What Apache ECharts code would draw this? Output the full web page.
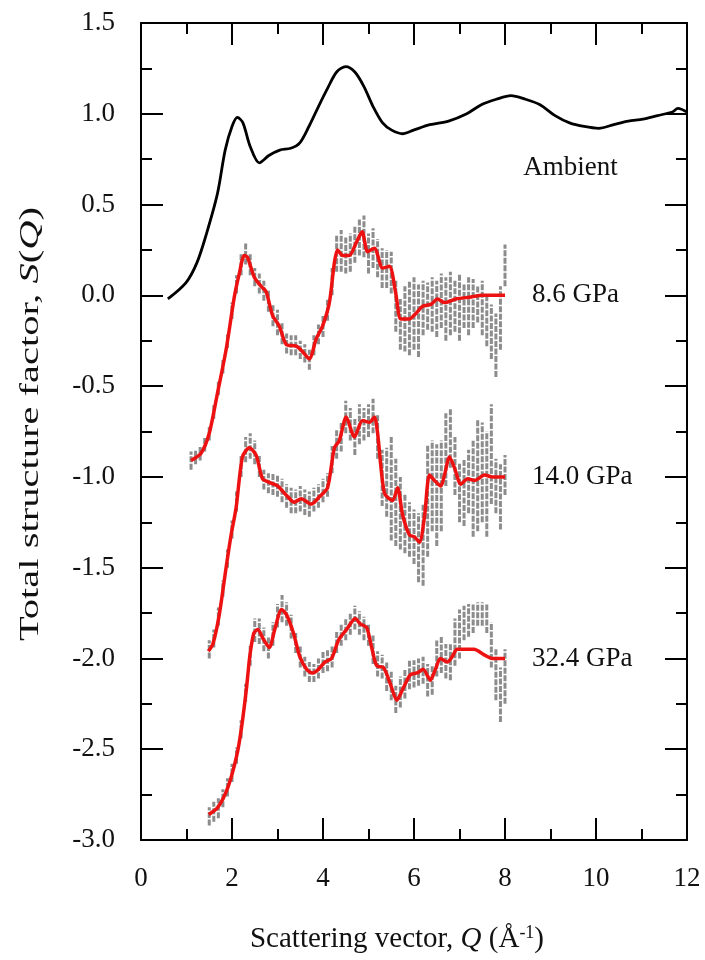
<!DOCTYPE html>
<html>
<head>
<meta charset="utf-8">
<script src="https://cdn.jsdelivr.net/npm/echarts@6/dist/echarts.min.js"></script>
<style>
html,body{margin:0;padding:0;background:#fff;}
#chart{width:705px;height:960px;}
</style>
</head>
<body>
<div id="chart"></div>
<script>
// ---------- data ----------
const xTicks = [0, 2, 4, 6, 8, 10, 12];
const yTicks = [-3.0, -2.5, -2.0, -1.5, -1.0, -0.5, 0.0, 0.5, 1.0, 1.5];
const seriesNames = ['Ambient', '8.6 GPa', '14.0 GPa', '32.4 GPa'];

// Ambient (black)
const qAmbient = [0.59, 0.99, 1.23, 1.44, 1.68, 1.85, 2.0, 2.12, 2.24, 2.40, 2.60, 2.81, 3.05, 3.29, 3.49, 3.69, 3.90, 4.10, 4.30, 4.50, 4.70, 4.90, 5.10, 5.31, 5.51, 5.75, 5.99, 6.35, 6.76, 7.16, 7.48, 7.81, 8.13, 8.45, 8.77, 9.10, 9.42, 9.74, 10.06, 10.39, 10.71, 11.03, 11.35, 11.68, 11.80, 12.0];
const sAmbient = [-0.02, 0.07, 0.18, 0.34, 0.56, 0.80, 0.93, 0.98, 0.95, 0.82, 0.73, 0.77, 0.80, 0.81, 0.84, 0.93, 1.04, 1.14, 1.23, 1.26, 1.23, 1.15, 1.04, 0.95, 0.91, 0.89, 0.91, 0.94, 0.96, 1.00, 1.05, 1.08, 1.10, 1.08, 1.05, 0.99, 0.95, 0.93, 0.92, 0.94, 0.96, 0.97, 0.99, 1.01, 1.03, 1.01];

// 8.6 GPa fit (red)
const q86 = [1.10, 1.32, 1.50, 1.68, 1.87, 2.05, 2.16, 2.27, 2.34, 2.49, 2.64, 2.75, 2.89, 3.04, 3.19, 3.41, 3.55, 3.70, 3.85, 3.99, 4.14, 4.25, 4.32, 4.43, 4.58, 4.73, 4.86, 4.98, 5.13, 5.31, 5.46, 5.60, 5.71, 5.90, 6.04, 6.19, 6.37, 6.52, 6.67, 6.92, 7.22, 7.51, 8.0];
const s86 = [-0.91, -0.87, -0.76, -0.54, -0.30, -0.01, 0.12, 0.22, 0.21, 0.10, 0.05, 0.02, -0.11, -0.17, -0.27, -0.28, -0.31, -0.35, -0.24, -0.17, -0.04, 0.18, 0.25, 0.22, 0.22, 0.29, 0.35, 0.24, 0.26, 0.15, 0.16, 0.01, -0.13, -0.13, -0.10, -0.06, -0.05, -0.02, -0.04, -0.02, -0.01, 0.0, 0.0];

// 14.0 GPa fit (red)
const q140 = [1.48, 1.58, 1.72, 1.87, 1.98, 2.09, 2.23, 2.38, 2.53, 2.67, 2.82, 3.00, 3.19, 3.37, 3.52, 3.74, 3.92, 4.10, 4.25, 4.36, 4.51, 4.69, 4.87, 5.02, 5.13, 5.20, 5.35, 5.53, 5.64, 5.75, 5.90, 6.01, 6.12, 6.23, 6.34, 6.45, 6.59, 6.67, 6.78, 6.89, 7.03, 7.18, 7.33, 7.55, 7.73, 8.0];
const s140 = [-1.96, -1.92, -1.76, -1.50, -1.32, -1.17, -0.89, -0.84, -0.88, -1.01, -1.03, -1.05, -1.10, -1.14, -1.12, -1.15, -1.11, -1.06, -0.84, -0.80, -0.67, -0.78, -0.69, -0.70, -0.67, -0.76, -1.09, -1.13, -1.06, -1.21, -1.32, -1.33, -1.36, -1.22, -0.99, -1.02, -1.05, -0.99, -0.89, -0.95, -1.04, -1.01, -1.02, -0.99, -1.00, -1.0];

// 32.4 GPa fit (red)
const q324 = [1.49, 1.69, 1.91, 2.10, 2.21, 2.32, 2.39, 2.48, 2.57, 2.68, 2.82, 2.94, 3.09, 3.20, 3.35, 3.49, 3.64, 3.77, 3.90, 4.04, 4.19, 4.34, 4.52, 4.71, 4.82, 4.96, 5.07, 5.18, 5.33, 5.48, 5.62, 5.77, 5.92, 6.07, 6.20, 6.36, 6.47, 6.58, 6.73, 6.84, 6.95, 7.17, 7.32, 7.54, 7.72, 8.0];
const s324 = [-2.86, -2.82, -2.71, -2.54, -2.38, -2.16, -1.99, -1.86, -1.84, -1.89, -1.94, -1.84, -1.73, -1.76, -1.86, -1.99, -2.06, -2.08, -2.06, -2.02, -2.00, -1.90, -1.84, -1.78, -1.81, -1.83, -1.94, -2.04, -2.05, -2.14, -2.23, -2.16, -2.09, -2.08, -2.06, -2.12, -2.06, -2.00, -2.02, -1.99, -1.95, -1.95, -1.95, -1.98, -2.00, -2.0];

// Measured data with error bars (grey): Q, lower, upper
const qErr86 = [1.1, 1.2, 1.3, 1.4, 1.5, 1.6, 1.7, 1.8, 1.9, 2.0, 2.1, 2.2, 2.3, 2.4, 2.5, 2.6, 2.7, 2.8, 2.9, 3.0, 3.1, 3.2, 3.3, 3.4, 3.5, 3.6, 3.7, 3.8, 3.9, 4.0, 4.1, 4.2, 4.3, 4.4, 4.5, 4.6, 4.7, 4.8, 4.9, 5.0, 5.1, 5.2, 5.3, 5.4, 5.5, 5.6, 5.7, 5.8, 5.9, 6.0, 6.1, 6.2, 6.3, 6.4, 6.5, 6.6, 6.7, 6.8, 6.9, 7.0, 7.1, 7.2, 7.3, 7.4, 7.5, 7.6, 7.7, 7.8, 7.9, 8.0];
const lo86 = [-0.96, -0.93, -0.91, -0.86, -0.80, -0.68, -0.55, -0.43, -0.29, -0.13, 0.01, 0.11, 0.17, 0.11, 0.05, 0.01, -0.03, -0.09, -0.17, -0.22, -0.27, -0.32, -0.33, -0.33, -0.35, -0.37, -0.41, -0.33, -0.27, -0.23, -0.14, 0.00, 0.13, 0.13, 0.12, 0.13, 0.18, 0.22, 0.21, 0.12, 0.15, 0.10, 0.04, 0.04, 0.01, -0.20, -0.30, -0.31, -0.33, -0.30, -0.34, -0.22, -0.19, -0.20, -0.23, -0.18, -0.25, -0.22, -0.20, -0.25, -0.18, -0.22, -0.18, -0.15, -0.22, -0.28, -0.35, -0.45, -0.30, 0.05];
const hi86 = [-0.86, -0.85, -0.83, -0.78, -0.72, -0.60, -0.47, -0.35, -0.21, -0.04, 0.11, 0.23, 0.29, 0.23, 0.15, 0.12, 0.08, 0.03, -0.05, -0.08, -0.15, -0.21, -0.22, -0.22, -0.25, -0.27, -0.30, -0.22, -0.16, -0.11, -0.02, 0.15, 0.33, 0.36, 0.32, 0.34, 0.38, 0.42, 0.44, 0.34, 0.37, 0.31, 0.26, 0.25, 0.24, 0.08, -0.02, 0.05, 0.08, 0.10, 0.06, 0.08, 0.07, 0.10, 0.08, 0.12, 0.10, 0.13, 0.08, 0.12, 0.06, 0.10, 0.09, 0.05, 0.08, 0.00, -0.05, -0.10, 0.05, 0.28];

const qErr140 = [1.5, 1.6, 1.7, 1.8, 1.9, 2.0, 2.1, 2.2, 2.3, 2.4, 2.5, 2.6, 2.7, 2.8, 2.9, 3.0, 3.1, 3.2, 3.3, 3.4, 3.5, 3.6, 3.7, 3.8, 3.9, 4.0, 4.1, 4.2, 4.3, 4.4, 4.5, 4.6, 4.7, 4.8, 4.9, 5.0, 5.1, 5.2, 5.3, 5.4, 5.5, 5.6, 5.7, 5.8, 5.9, 6.0, 6.1, 6.2, 6.3, 6.4, 6.5, 6.6, 6.7, 6.8, 6.9, 7.0, 7.1, 7.2, 7.3, 7.4, 7.5, 7.6, 7.7, 7.8, 7.9, 8.0];
const lo140 = [-2.00, -1.94, -1.82, -1.66, -1.50, -1.34, -1.19, -1.00, -0.92, -0.90, -0.93, -1.00, -1.07, -1.09, -1.10, -1.11, -1.14, -1.17, -1.20, -1.20, -1.19, -1.21, -1.22, -1.19, -1.17, -1.14, -1.11, -0.98, -0.90, -0.86, -0.76, -0.80, -0.88, -0.82, -0.80, -0.78, -0.76, -0.90, -1.16, -1.22, -1.35, -1.38, -1.40, -1.42, -1.44, -1.48, -1.58, -1.60, -1.44, -1.30, -1.38, -1.30, -1.05, -0.95, -1.10, -1.25, -1.27, -1.20, -1.33, -1.30, -1.25, -1.33, -1.15, -1.20, -1.29, -1.10];
const hi140 = [-1.90, -1.84, -1.72, -1.57, -1.40, -1.24, -1.08, -0.88, -0.78, -0.76, -0.80, -0.88, -0.96, -0.98, -0.98, -0.99, -1.01, -1.04, -1.06, -1.07, -1.05, -1.07, -1.08, -1.06, -1.04, -1.01, -0.98, -0.83, -0.74, -0.70, -0.58, -0.62, -0.68, -0.60, -0.62, -0.60, -0.57, -0.66, -0.85, -0.84, -0.78, -0.90, -1.00, -1.09, -1.14, -1.18, -1.20, -1.15, -0.82, -0.80, -0.82, -0.80, -0.65, -0.62, -0.78, -0.92, -0.90, -0.85, -0.80, -0.68, -0.70, -0.75, -0.60, -0.90, -0.93, -0.88];

const qErr324 = [1.5, 1.6, 1.7, 1.8, 1.9, 2.0, 2.1, 2.2, 2.3, 2.4, 2.5, 2.6, 2.7, 2.8, 2.9, 3.0, 3.1, 3.2, 3.3, 3.4, 3.5, 3.6, 3.7, 3.8, 3.9, 4.0, 4.1, 4.2, 4.3, 4.4, 4.5, 4.6, 4.7, 4.8, 4.9, 5.0, 5.1, 5.2, 5.3, 5.4, 5.5, 5.6, 5.7, 5.8, 5.9, 6.0, 6.1, 6.2, 6.3, 6.4, 6.5, 6.6, 6.7, 6.8, 6.9, 7.0, 7.1, 7.2, 7.3, 7.4, 7.5, 7.6, 7.7, 7.8, 7.9, 8.0];
const lo324 = [-2.92, -2.90, -2.88, -2.82, -2.76, -2.68, -2.58, -2.44, -2.24, -2.04, -1.91, -1.92, -1.96, -2.00, -1.93, -1.83, -1.80, -1.82, -1.89, -1.97, -2.05, -2.10, -2.13, -2.13, -2.11, -2.08, -2.07, -2.05, -1.97, -1.93, -1.90, -1.87, -1.84, -1.87, -1.90, -1.93, -2.03, -2.10, -2.11, -2.18, -2.23, -2.30, -2.27, -2.22, -2.17, -2.16, -2.15, -2.14, -2.21, -2.20, -2.10, -2.08, -2.11, -2.12, -2.04, -2.00, -1.90, -1.88, -1.86, -1.82, -1.82, -1.86, -2.05, -2.23, -2.35, -2.25];
const hi324 = [-2.82, -2.79, -2.77, -2.72, -2.66, -2.58, -2.49, -2.34, -2.14, -1.93, -1.78, -1.78, -1.83, -1.88, -1.80, -1.70, -1.65, -1.69, -1.76, -1.86, -1.93, -1.99, -2.02, -2.03, -2.00, -1.96, -1.95, -1.93, -1.85, -1.81, -1.78, -1.75, -1.71, -1.74, -1.77, -1.81, -1.87, -1.96, -1.98, -2.02, -2.07, -2.15, -2.10, -2.06, -2.01, -2.01, -2.00, -1.99, -2.03, -2.04, -1.90, -1.88, -1.92, -1.92, -1.78, -1.73, -1.71, -1.70, -1.70, -1.69, -1.69, -1.70, -1.80, -1.95, -2.05, -1.95];

// ---------- chart ----------
const FONT = '"Liberation Serif", "Times New Roman", serif';
const zip2 = (a, b) => a.map((v, i) => [v, b[i]]);
const zip3 = (a, b, c) => a.map((v, i) => [v, b[i], c[i]]);

function errSeries(q, lo, hi) {
  return {
    type: 'custom',
    data: zip3(q, lo, hi),
    encode: { x: 0, y: [1, 2] },
    z: 1,
    silent: true,
    renderItem: function (params, api) {
      const p1 = api.coord([api.value(0), api.value(1)]);
      const p2 = api.coord([api.value(0), api.value(2)]);
      return {
        type: 'line',
        shape: { x1: p1[0], y1: p1[1], x2: p2[0], y2: p2[1] },
        style: { stroke: '#8c8c8c', lineWidth: 3, lineDash: [6, 1.5] }
      };
    }
  };
}

function redSeries(name, q, s) {
  return {
    type: 'line',
    name: name,
    data: zip2(q, s),
    showSymbol: false,
    symbol: 'none',
    smooth: 0.25,
    z: 3,
    lineStyle: { color: '#ee1111', width: 3.5 },
    endLabel: {
      show: true,
      formatter: name,
      distance: 27,
      color: '#111',
      fontFamily: FONT,
      fontSize: 27
    }
  };
}

const axisLine = { show: true, onZero: false, lineStyle: { color: '#000', width: 2 } };
const axisTick = { show: true, inside: true, length: 22, lineStyle: { color: '#000', width: 2 } };
const minorTick = { show: true, splitNumber: 2, length: 11, lineStyle: { color: '#000', width: 2 } };
const labelStyle = { color: '#111', fontFamily: FONT, fontSize: 27 };

const option = {
  backgroundColor: '#fff',
  animation: false,
  grid: { left: 141, right: 18, top: 23, bottom: 120, containLabel: false },
  graphic: [
    {
      type: 'text',
      x: 31, y: 424,
      rotation: Math.PI / 2,
      scaleX: 1.5,
      silent: true,
      style: {
        text: '{n|Total structure factor, }{i|S}{n|(}{i|Q}{n|)}',
        align: 'center',
        verticalAlign: 'middle',
        rich: {
          n: { fontFamily: FONT, fontSize: 27, fill: '#111' },
          i: { fontFamily: FONT, fontSize: 27, fill: '#111', fontStyle: 'italic' }
        }
      }
    }
  ],
  xAxis: [
    {
      type: 'value', min: xTicks[0], max: xTicks[xTicks.length - 1], interval: 2,
      position: 'bottom',
      axisLine: axisLine, axisTick: axisTick, minorTick: minorTick,
      splitLine: { show: false }, minorSplitLine: { show: false },
      axisLabel: Object.assign({ margin: 25, formatter: v => String(v) }, labelStyle),
      name: '{n|Scattering vector, }{i|Q}{n| (Å}{s|-1}{n|)}',
      nameLocation: 'middle', nameGap: 84,
      nameTextStyle: {
        padding: [0, 34, 0, 0],
        rich: {
          n: { fontFamily: FONT, fontSize: 29, color: '#111' },
          i: { fontFamily: FONT, fontSize: 29, color: '#111', fontStyle: 'italic' },
          s: { fontFamily: FONT, fontSize: 18, color: '#111', verticalAlign: 'top', padding: [0, 0, 12, 0] }
        }
      }
    },
    {
      type: 'value', min: xTicks[0], max: xTicks[xTicks.length - 1], interval: 2,
      position: 'top',
      axisLine: axisLine, axisTick: axisTick, minorTick: minorTick,
      splitLine: { show: false }, minorSplitLine: { show: false },
      axisLabel: { show: false }
    }
  ],
  yAxis: [
    {
      type: 'value', min: yTicks[0], max: yTicks[yTicks.length - 1], interval: 0.5,
      position: 'left',
      axisLine: axisLine, axisTick: axisTick, minorTick: minorTick,
      splitLine: { show: false }, minorSplitLine: { show: false },
      axisLabel: Object.assign({ margin: 26, formatter: v => v.toFixed(1) }, labelStyle)
    },
    {
      type: 'value', min: yTicks[0], max: yTicks[yTicks.length - 1], interval: 0.5,
      position: 'right',
      axisLine: axisLine, axisTick: axisTick, minorTick: minorTick,
      splitLine: { show: false }, minorSplitLine: { show: false },
      axisLabel: { show: false }
    }
  ],
  series: [
    errSeries(qErr86, lo86, hi86),
    errSeries(qErr140, lo140, hi140),
    errSeries(qErr324, lo324, hi324),
    {
      type: 'line',
      name: seriesNames[0],
      data: zip2(qAmbient, sAmbient),
      showSymbol: false,
      symbol: 'none',
      smooth: 0.3,
      z: 4,
      lineStyle: { color: '#000', width: 2.8 },
      markPoint: {
        symbol: 'circle', symbolSize: 0, silent: true,
        data: [{ coord: [8.4, 0.70], value: seriesNames[0] }],
        label: {
          show: true, position: 'inside', align: 'left',
          formatter: seriesNames[0],
          color: '#111', fontFamily: FONT, fontSize: 27
        }
      }
    },
    redSeries(seriesNames[1], q86, s86),
    redSeries(seriesNames[2], q140, s140),
    redSeries(seriesNames[3], q324, s324)
  ]
};

const chart = echarts.init(document.getElementById('chart'), null, { renderer: 'canvas' });
chart.setOption(option);
</script>
</body>
</html>
